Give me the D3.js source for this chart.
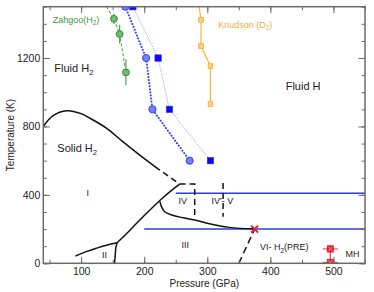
<!DOCTYPE html>
<html>
<head>
<script src="https://d3js.org/d3.v7.min.js"></script>
<style>
body{margin:0;background:#fff;}
text{font-family:"Liberation Sans",Arial,sans-serif;fill:#222;}
</style>
</head>
<body>
<div id="chart"></div>
<script>
// axis ticks
var xTicks = [100, 200, 300, 400, 500];
var yTicks = [0, 400, 800, 1200];

// phase boundaries [P (GPa), T (K)]
var meltSolid = [[40,800],[55,862],[77,892],[100,875],[114,848],[140,790],[166,711],[193,632],[217,565]];
var meltDashed = [[217,565],[256,463]];
var lineIto3 = [[157,120],[177,192],[197,268],[230,385],[256,463]];
var lineII = [[91,43],[108,68],[124,88],[140,106],[157,120]];
var lineIIto3 = [[153,0],[154,45],[155,90],[157,120]];
var lineIV = [[225,360],[228,325],[233,300],[245,281],[262,266],[282,252],[298,236],[335,210],[375,200]];
var lineIVdash = [[256,463],[280,463],[280,272]];
var lineVdash = [[325,469],[325,272]];
var lineVIdash = [[350,0],[375,200]];
var blueHoriz = [[250,550,410],[200,550,200]];

// simulation points
var circP = [170, 203, 213, 272];
var circT = [1500, 1200, 900, 600];
var sqP = [182, 222, 240, 305];
var sqT = [1500, 1200, 900, 600];

// experiments
var zahP = [152, 161, 171];
var zahT = [1429, 1340, 1116];
var zahErr = [30, 55, 75];
var zahTop = [140, 1500];
var knP = [290, 290, 305, 305];
var knT = [1423, 1270, 1153, 931];
var knTop = [287, 1500];
var mhP = [495, 495];
var mhT = [84, 5];
var mhErrP = 12;
var critPt = [375, 200];

var W = 374, H = 292;
var m = {left: 43.3, right: 9, top: 6.7, bottom: 28.7};
var w = W - m.left - m.right, h = H - m.top - m.bottom;

var svg = d3.select("#chart").append("svg").attr("width", W).attr("height", H);
var g = svg.append("g").attr("transform", "translate(" + m.left + "," + m.top + ")");

var x = d3.scaleLinear().domain([40, 550]).range([0, w]);
var y = d3.scaleLinear().domain([0, 1500]).range([h, 0]);

svg.append("defs").append("clipPath").attr("id", "clip")
  .append("rect").attr("width", w).attr("height", h);

var plot = g.append("g").attr("clip-path", "url(#clip)");

var line = d3.line().x(function(d){ return x(d[0]); }).y(function(d){ return y(d[1]); });
var smooth = d3.line().x(function(d){ return x(d[0]); }).y(function(d){ return y(d[1]); }).curve(d3.curveCatmullRom);

function path(data, gen, color, width, dash) {
  plot.append("path").datum(data).attr("d", gen)
    .attr("fill", "none").attr("stroke", color).attr("stroke-width", width)
    .attr("stroke-dasharray", dash || null);
}

// blue horizontal lines
blueHoriz.forEach(function(b){
  plot.append("line").attr("x1", x(b[0])).attr("x2", x(b[1]))
    .attr("y1", y(b[2])).attr("y2", y(b[2]))
    .attr("stroke", "#2b3ddb").attr("stroke-width", 1.5);
});

path(meltSolid, smooth, "#111", 1.5);
path(meltDashed, line, "#111", 1.5, "6,4");
path(lineIto3, smooth, "#111", 1.5);
path(lineII, smooth, "#111", 1.5);
path(lineIIto3, smooth, "#111", 1.5);
path(lineIV, smooth, "#111", 1.5);
path(lineIVdash, line, "#111", 1.5, "6,4");
path(lineVdash, line, "#111", 1.5, "6,4");
path(lineVIdash, line, "#111", 1.5, "7,4");

// blue square series
var sqData = sqP.map(function(p, i){ return [p, sqT[i]]; });
path(sqData, line, "#8d98ff", 1, "1,1.2");
// blue circle series
var circData = circP.map(function(p, i){ return [p, circT[i]]; });
plot.append("path").datum(circData).attr("d", line)
  .attr("fill", "none").attr("stroke", "#3446ee").attr("stroke-width", 2)
  .attr("stroke-dasharray", "0.1,3").attr("stroke-linecap", "round");

plot.selectAll(".sq").data(sqData).enter().append("rect")
  .attr("x", function(d){ return x(d[0]) - 3.2; })
  .attr("y", function(d){ return y(d[1]) - 3.2; })
  .attr("width", 6.4).attr("height", 6.4)
  .attr("fill", "#0a0aee").attr("stroke", "#3030ff").attr("stroke-width", 0.6);

plot.selectAll(".circ").data(circData).enter().append("circle")
  .attr("cx", function(d){ return x(d[0]); })
  .attr("cy", function(d){ return y(d[1]); })
  .attr("r", 3.6)
  .attr("fill", "#7380f7").attr("stroke", "#3446ee").attr("stroke-width", 1);

// Zahgoo (green)
var zahData = zahP.map(function(p, i){ return [p, zahT[i]]; });
path([zahTop].concat(zahData), line, "#3b9b3b", 1, "3,2");
zahData.forEach(function(d, i){
  plot.append("line").attr("x1", x(d[0])).attr("x2", x(d[0]))
    .attr("y1", y(d[1] - zahErr[i])).attr("y2", y(d[1] + zahErr[i]))
    .attr("stroke", "#4aa84a").attr("stroke-width", 1.2);
});
plot.selectAll(".zah").data(zahData).enter().append("circle")
  .attr("cx", function(d){ return x(d[0]); })
  .attr("cy", function(d){ return y(d[1]); })
  .attr("r", 3.4)
  .attr("fill", "#72bc72").attr("stroke", "#2f8f2f").attr("stroke-width", 1);

// Knudson (orange)
var knData = knP.map(function(p, i){ return [p, knT[i]]; });
path([knTop].concat(knData), line, "#f8b443", 1.2);
plot.selectAll(".kn").data(knData).enter().append("rect")
  .attr("x", function(d){ return x(d[0]) - 2.3; })
  .attr("y", function(d){ return y(d[1]) - 2.3; })
  .attr("width", 4.6).attr("height", 4.6)
  .attr("fill", "#fcd37e").attr("stroke", "#f5a623").attr("stroke-width", 0.8);

// MH (red)
var mhData = mhP.map(function(p, i){ return [p, mhT[i]]; });
path(mhData, line, "#e8202a", 1);
mhData.forEach(function(d){
  plot.append("line").attr("x1", x(d[0] - mhErrP)).attr("x2", x(d[0] + mhErrP))
    .attr("y1", y(d[1])).attr("y2", y(d[1]))
    .attr("stroke", "#ee3340").attr("stroke-width", 1);
});
mhData.forEach(function(d){
  var cx = x(d[0]), cy = y(d[1]);
  plot.append("rect").attr("x", cx - 3.2).attr("y", cy - 3.2).attr("width", 6.4).attr("height", 6.4)
    .attr("fill", "#ec1c2a").attr("stroke", "#d01020").attr("stroke-width", 0.6);
  plot.append("path").attr("d", "M" + (cx-2.5) + "," + (cy-2.5) + "L" + (cx+2.5) + "," + (cy+2.5) +
    "M" + (cx+2.5) + "," + (cy-2.5) + "L" + (cx-2.5) + "," + (cy+2.5))
    .attr("stroke", "#ff9aa0").attr("stroke-width", 0.8);
});

// critical point cross
(function(){
  var cx = x(critPt[0]), cy = y(critPt[1]), s = 3.5;
  g.append("path").attr("d", "M" + (cx-s) + "," + (cy-s) + "L" + (cx+s) + "," + (cy+s) +
    "M" + (cx+s) + "," + (cy-s) + "L" + (cx-s) + "," + (cy+s))
    .attr("stroke", "#ee1c2a").attr("stroke-width", 2);
})();

// axes
var frame = "#6a6a6a";
var xMinor = d3.range(50, 551, 50);
var yMinor = d3.range(0, 1501, 100);
function styleAxis(sel) {
  sel.select(".domain").remove();
  sel.selectAll(".tick line").attr("stroke", frame).attr("stroke-width", 1);
  sel.selectAll("text").style("font-size", "10.5px").attr("fill", "#222");
}
g.append("g").attr("transform", "translate(0," + h + ")")
  .call(d3.axisBottom(x).tickValues(xMinor).tickSize(-3.5).tickFormat("")).call(styleAxis);
g.append("g").attr("transform", "translate(0," + h + ")")
  .call(d3.axisBottom(x).tickValues(xTicks).tickSize(-6.5).tickPadding(4).tickFormat(d3.format("d"))).call(styleAxis);
g.append("g")
  .call(d3.axisTop(x).tickValues(xMinor).tickSize(-3.5).tickFormat("")).call(styleAxis);
g.append("g")
  .call(d3.axisTop(x).tickValues(xTicks).tickSize(-6.5).tickFormat("")).call(styleAxis);
g.append("g")
  .call(d3.axisLeft(y).tickValues(yMinor).tickSize(-3.5).tickFormat("")).call(styleAxis);
g.append("g")
  .call(d3.axisLeft(y).tickValues(yTicks).tickSize(-6.5).tickPadding(3).tickFormat(d3.format("d"))).call(styleAxis);
g.append("g").attr("transform", "translate(" + w + ",0)")
  .call(d3.axisRight(y).tickValues(yMinor).tickSize(-3.5).tickFormat("")).call(styleAxis);
g.append("g").attr("transform", "translate(" + w + ",0)")
  .call(d3.axisRight(y).tickValues(yTicks).tickSize(-6.5).tickFormat("")).call(styleAxis);

g.append("rect").attr("width", w).attr("height", h)
  .attr("fill", "none").attr("stroke", frame).attr("stroke-width", 1.5);

// labels (strings are normal text, {sub:..} is a subscript)
function label(px, py, parts, size, color) {
  var t = g.append("text").attr("x", px).attr("y", py).style("font-size", size + "px");
  if (color) t.style("fill", color);
  var shift = size * 0.3, lowered = false;
  parts.forEach(function(p){
    if (typeof p === "string") {
      var s = t.append("tspan").text(p);
      if (lowered) { s.attr("dy", -shift); lowered = false; }
    } else {
      t.append("tspan").attr("dy", shift).style("font-size", (size * 0.7) + "px").text(p.sub);
      lowered = true;
    }
  });
  return t;
}
var L = m.left, T = m.top;
label(54.3 - L, 72 - T, ["Fluid H", {sub: "2"}], 11);
label(285.7 - L, 90 - T, ["Fluid H"], 11);
label(57.3 - L, 152 - T, ["Solid H", {sub: "2"}], 11);
label(52.7 - L, 22.7 - T, ["Zahgoo(H", {sub: "2"}, ")"], 9, "#3a9a3a");
label(218.3 - L, 27.7 - T, ["Knudson (D", {sub: "2"}, ")"], 9, "#f6ae3a");
label(86.5 - L, 196 - T, ["I"], 9);
label(102 - L, 258.5 - T, ["II"], 9);
label(181.5 - L, 248.5 - T, ["III"], 9);
label(178.5 - L, 204.5 - T, ["IV"], 9);
label(211.5 - L, 204.5 - T, ["IV'- V"], 9);
label(260 - L, 250 - T, ["VI- H", {sub: "2"}, "(PRE)"], 9);
label(345.5 - L, 257.5 - T, ["MH"], 9);

svg.append("text").attr("x", m.left + x(300) - 3).attr("y", 287)
  .attr("text-anchor", "middle").style("font-size", "10px").text("Pressure (GPa)");
svg.append("text").attr("transform", "translate(14," + (m.top + h / 2) + ") rotate(-90)")
  .attr("text-anchor", "middle").style("font-size", "10px").text("Temperature (K)");
</script>
</body>
</html>
